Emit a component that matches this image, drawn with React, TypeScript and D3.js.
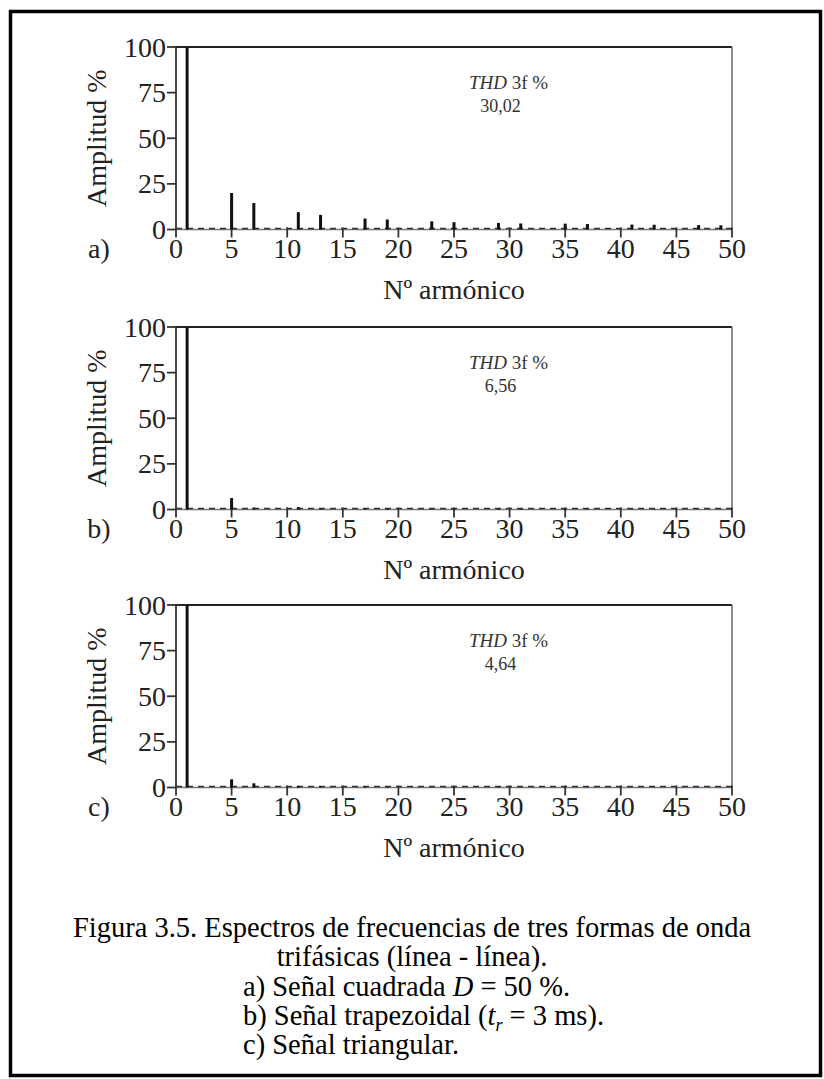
import React from "react";
import * as d3 from "d3";

const harmonics = [1, 5, 7, 11, 13, 17, 19, 23, 25, 29, 31, 35, 37, 41, 43, 47, 49];
const squareAmp = [100, 20, 14.5, 9.5, 8, 6, 5.5, 4.5, 4, 3.6, 3.3, 3.2, 3, 2.7, 2.6, 2.4, 2.3];
const trapAmp = [100, 6.3, 1.0, 1.3, 0.5, 0.5, 0.5, 0.3, 0.4, 0.3, 0.3, 0.2, 0.2, 0.2, 0.2, 0.1, 0.1];
const triAmp = [100, 4.5, 2.3, 0.9, 0.6, 0.4, 0.3, 0.2, 0.2, 0.15, 0.15, 0.1, 0.1, 0.1, 0.1, 0.1, 0.1];
const panelLetters = ["a)", "b)", "c)"];
const thdValues = ["30,02", "6,56", "4,64"];
const xTicks = [0, 5, 10, 15, 20, 25, 30, 35, 40, 45, 50];
const yTicks = [0, 25, 50, 75, 100];

const FONT = "'Liberation Serif', 'Times New Roman', serif";

const W = 824;
const H = 1079;
const plotLeft = 176;
const plotRight = 732;
const panelTops = [47, 327, 605];
const plotH = 182.5;

function Panel({ idx, values }: { idx: number; values: number[] }) {
  const top = panelTops[idx];
  const bottom = top + plotH;
  const x = d3.scaleLinear().domain([0, 50]).range([plotLeft, plotRight]);
  const y = d3.scaleLinear().domain([0, 100]).range([bottom, top]);
  const thdX = (x(26.5) + x(31.5)) / 2;
  return (
    <g>
      <line x1={x(0)} x2={x(50)} y1={y(100)} y2={y(100)} stroke="#222" strokeWidth={2} />
      <line x1={x(50)} x2={x(50)} y1={y(100)} y2={y(0)} stroke="#666" strokeWidth={1.5} />
      <line x1={x(0)} x2={x(0)} y1={y(100) - 1} y2={y(0)} stroke="#333" strokeWidth={1.8} />
      {yTicks.map((t) => (
        <g key={t}>
          <line x1={x(0) - 9} x2={x(0)} y1={y(t)} y2={y(t)} stroke="#333" strokeWidth={1.8} />
          <text
            x={x(0) - 10}
            y={y(t)}
            dy="0.34em"
            textAnchor="end"
            fontFamily={FONT}
            fontSize={28}
            fill="#222"
          >
            {t}
          </text>
        </g>
      ))}
      <line x1={x(0)} x2={x(50)} y1={y(0)} y2={y(0)} stroke="#777" strokeWidth={1.3} />
      <line
        x1={x(0)}
        x2={x(50)}
        y1={y(0) - 1}
        y2={y(0) - 1}
        stroke="#333"
        strokeWidth={1.5}
        strokeDasharray="6 5"
      />
      {xTicks.map((t) => (
        <g key={t}>
          <line x1={x(t)} x2={x(t)} y1={y(0) - 2} y2={y(0) + 8} stroke="#333" strokeWidth={1.8} />
          <text
            x={x(t)}
            y={y(0) + 28}
            textAnchor="middle"
            fontFamily={FONT}
            fontSize={28}
            fill="#222"
          >
            {t}
          </text>
        </g>
      ))}
      {harmonics.map((h, i) => (
        <rect
          key={h}
          x={x(h) - 1.5}
          y={y(values[i])}
          width={3}
          height={y(0) - y(values[i])}
          fill="#111"
        />
      ))}
      <text x={99} y={y(0) + 28} textAnchor="middle" fontFamily={FONT} fontSize={28} fill="#222">
        {panelLetters[idx]}
      </text>
      <text
        transform={`translate(106,${(top + bottom) / 2}) rotate(-90)`}
        textAnchor="middle"
        fontFamily={FONT}
        fontSize={28}
        fill="#222"
      >
        Amplitud %
      </text>
      <text
        x={(plotLeft + plotRight) / 2}
        y={y(0) + 69}
        textAnchor="middle"
        fontFamily={FONT}
        fontSize={28}
        fill="#222"
      >
        Nº armónico
      </text>
      <text x={thdX + 10} y={top + 42} textAnchor="middle" fontFamily={FONT} fontSize={19} fill="#333">
        <tspan fontStyle="italic">THD</tspan> 3f %
      </text>
      <text x={thdX + 2} y={top + 65} textAnchor="middle" fontFamily={FONT} fontSize={18} fill="#333">
        {thdValues[idx]}
      </text>
    </g>
  );
}

export default function App() {
  const series = [squareAmp, trapAmp, triAmp];
  return (
    <svg
      width={W}
      height={H}
      style={{ position: "absolute", left: 0, top: 0, background: "#fff" }}
    >
      <rect x={0} y={0} width={W} height={H} fill="#fff" />
      <rect x={10.5} y={11.5} width={810} height={1064} fill="none" stroke="#000" strokeWidth={3.5} />
      {series.map((s, i) => (
        <Panel key={i} idx={i} values={s} />
      ))}
      <g fontFamily={FONT} fontSize={28.5} fill="#000">
        <text x={412} y={937} textAnchor="middle">
          Figura 3.5. Espectros de frecuencias de tres formas de onda
        </text>
        <text x={412} y={966} textAnchor="middle">
          trifásicas (línea - línea).
        </text>
        <text x={243} y={996}>
          a) Señal cuadrada <tspan fontStyle="italic">D</tspan> = 50 %.
        </text>
        <text x={243} y={1025}>
          b) Señal trapezoidal (<tspan fontStyle="italic">t</tspan>
          <tspan fontStyle="italic" fontSize={18} dy={6}>r</tspan>
          <tspan dy={-6}> = 3 ms).</tspan>
        </text>
        <text x={243} y={1054}>
          c) Señal triangular.
        </text>
      </g>
    </svg>
  );
}
